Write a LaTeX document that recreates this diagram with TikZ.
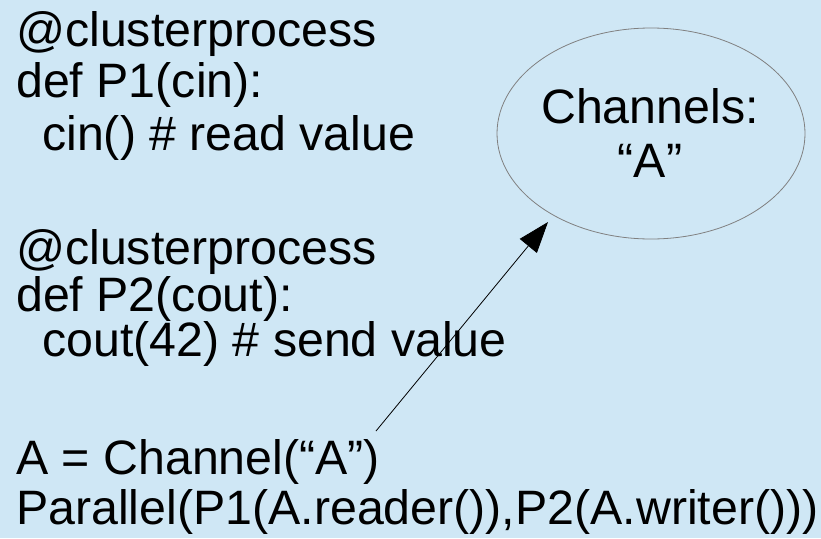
\documentclass[tikz,border=0pt]{standalone}
\usepackage{fontspec}
\setmainfont{Liberation Sans}
\usetikzlibrary{arrows.meta,shapes.geometric}
\definecolor{bgblue}{HTML}{CFE7F5}
\definecolor{rimgray}{HTML}{808080}
\tikzset{
  code/.style={anchor=base west, inner sep=0pt, font=\fontsize{48.3}{50}\selectfont},
  label/.style={anchor=base, inner sep=0pt, font=\fontsize{48.3}{50}\selectfont},
  pointer/.style={draw=black, line width=0.8pt, -{Triangle[length=31pt,width=22pt]}},
}
\begin{document}
\begin{tikzpicture}[x=1pt,y=-1pt]
  % canvas
  \fill[bgblue] (0,0) rectangle (821,538);
  \useasboundingbox (0,0) rectangle (821,538);

  % channel registry
  \draw[rimgray, line width=0.8pt] (651,133.5) ellipse [x radius=154, y radius=105.5];
  \node[label] (chan1) at (650,123) {Channels:};
  \node[label] (chan2) at (650,177) {“A”};

  % first process
  \node[code] (l1) at (16,46.5) {@clusterprocess};
  \node[code] (l2) at (16,97) {def P1(cin):};
  \node[code] (l3) at (42,150) {cin() \# read value};

  % second process
  \node[code] (l4) at (16,264) {@clusterprocess};
  \node[code] (l5) at (16,311) {def P2(cout):};
  \node[code] (l6) at (42,356) {cout(42) \# send value};

  % wiring
  \node[code] (l7) at (16,474) {A = Channel(“A”)};
  \node[code] (l8) at (16,524) {Parallel(P1(A.reader()),P2(A.writer()))};

  \coordinate (src) at (376,431);
  \coordinate (dst) at (548,222);
  \draw[pointer] (src) -- (dst);
\end{tikzpicture}
\end{document}
